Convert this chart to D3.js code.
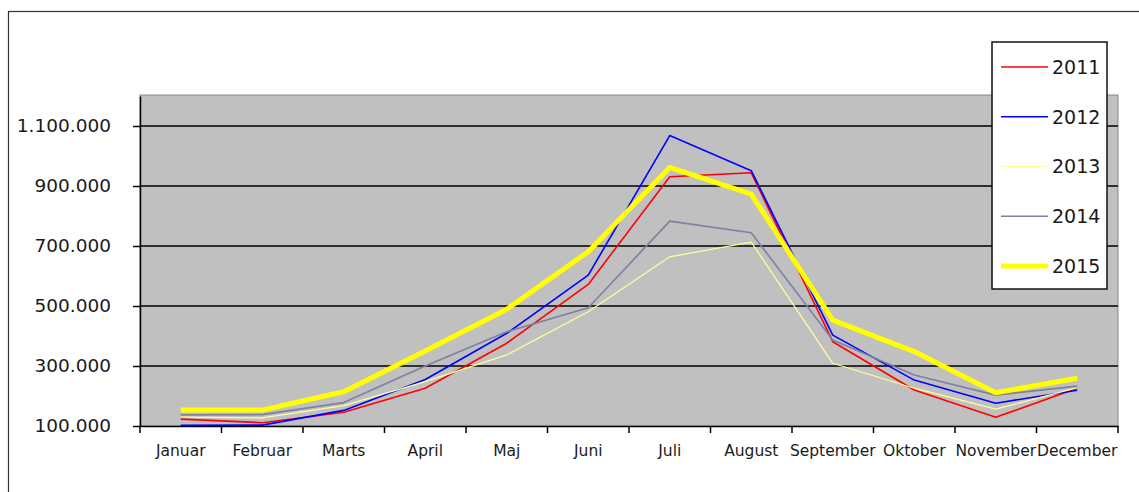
<!DOCTYPE html>
<html>
<head>
<meta charset="utf-8">
<script src="https://cdn.jsdelivr.net/npm/d3@7"></script>
<style>
  html, body { margin: 0; padding: 0; background: #fff; }
  svg { display: block; font-family: "DejaVu Sans", Verdana, sans-serif; }
</style>
</head>
<body>
<svg id="chart" width="1139" height="492"></svg>
<script>
const months = ["Januar","Februar","Marts","April","Maj","Juni","Juli","August","September","Oktober","November","December"];
const years = ["2011","2012","2013","2014","2015"];
const v2011 = [123000,111000,146000,226000,376000,572000,931000,944000,381000,220000,129000,226000];
const v2012 = [102000,103000,152000,255000,409000,603000,1068000,951000,403000,253000,176000,219000];
const v2013 = [130000,127000,168000,248000,337000,481000,664000,713000,309000,226000,156000,228000];
const v2014 = [137000,138000,178000,300000,414000,494000,783000,744000,387000,270000,203000,233000];
const v2015 = [153000,153000,214000,350000,489000,681000,962000,873000,453000,348000,211000,259000];
const yTicks = [100000,300000,500000,700000,900000,1100000];
const seriesValues = [v2011, v2012, v2013, v2014, v2015];
const colors = ["#FF0000","#0000FF","#FFFF99","#7F7FA3","#FFFF00"];
const widths = [1.6,1.6,1.2,1.6,5];

(function () {
const svg = d3.select("#chart");
const pLeft = 140, pRight = 1118, pTop = 96, pBottom = 426;

const x = d3.scaleBand().domain(months).range([pLeft, pRight]).padding(0);
const y = d3.scaleLinear().domain([100000, 1200000]).range([pBottom, pTop]);

// outer chart border
svg.append("rect").attr("x", 8.5).attr("y", 11.5).attr("width", 1300).attr("height", 700)
  .attr("fill", "#fff").attr("stroke", "#333").attr("stroke-width", 1.2);

// plot area
svg.append("rect").attr("x", pLeft).attr("y", pTop - 1).attr("width", pRight - pLeft).attr("height", pBottom - pTop + 1)
  .attr("fill", "#C0C0C0").attr("stroke", "#8a8a8a").attr("stroke-width", 1);

// gridlines
svg.append("g").selectAll("line").data(yTicks.slice(1)).join("line")
  .attr("x1", pLeft).attr("x2", pRight)
  .attr("y1", d => y(d)).attr("y2", d => y(d))
  .attr("stroke", "#000").attr("stroke-width", 1.5);

// y axis
const fmt = v => d3.format(",")(v).replace(/,/g, ".");
const yAxis = d3.axisLeft(y).tickValues(yTicks).tickSizeInner(7).tickSizeOuter(0).tickPadding(22).tickFormat(fmt);
const gy = svg.append("g").attr("transform", `translate(${pLeft},0)`).call(yAxis);
gy.select(".domain").attr("stroke", "#000").attr("stroke-width", 1.5);
gy.selectAll(".tick line").attr("stroke", "#000").attr("stroke-width", 1.5);
gy.selectAll("text").attr("font-size", 18.5).attr("fill", "#1a1a1a").attr("font-family", "DejaVu Sans");

// x axis
const xAxis = d3.axisBottom(x).tickSize(0).tickPadding(19);
const gx = svg.append("g").attr("transform", `translate(0,${pBottom})`).call(xAxis);
gx.select(".domain").attr("stroke", "#000").attr("stroke-width", 1.5);
gx.selectAll("text").attr("font-size", 15.5).attr("fill", "#1a1a1a").attr("font-family", "DejaVu Sans");
// category separator ticks
const sepPos = months.map(m => x(m)).concat([pRight]);
svg.append("g").selectAll("line").data(sepPos).join("line")
  .attr("x1", d => d).attr("x2", d => d)
  .attr("y1", pBottom).attr("y2", pBottom + 7)
  .attr("stroke", "#000").attr("stroke-width", 1.5);

// lines
const line = d3.line()
  .x((d, i) => x(months[i]) + x.bandwidth() / 2)
  .y(d => y(d));

svg.append("g").selectAll("path").data(seriesValues).join("path")
  .attr("d", d => line(d))
  .attr("fill", "none")
  .attr("stroke", (d, i) => colors[i])
  .attr("stroke-width", (d, i) => widths[i])
  .attr("stroke-linejoin", "round");

// legend
const lg = svg.append("g");
lg.append("rect").attr("x", 992).attr("y", 42).attr("width", 115).attr("height", 247)
  .attr("fill", "#fff").attr("stroke", "#111").attr("stroke-width", 1.5);
const ly = d3.scalePoint().domain(years).range([67, 266]);
const items = lg.selectAll("g.item").data(years).join("g").attr("class", "item");
items.append("line")
  .attr("x1", 1001).attr("x2", 1048)
  .attr("y1", d => ly(d)).attr("y2", d => ly(d))
  .attr("stroke", (d, i) => colors[i])
  .attr("stroke-width", (d, i) => widths[i]);
items.append("text")
  .attr("x", 1052).attr("y", d => ly(d)).attr("dy", "0.36em")
  .attr("font-size", 19).attr("fill", "#1a1a1a")
  .text(d => d);
})();
</script>
</body>
</html>
